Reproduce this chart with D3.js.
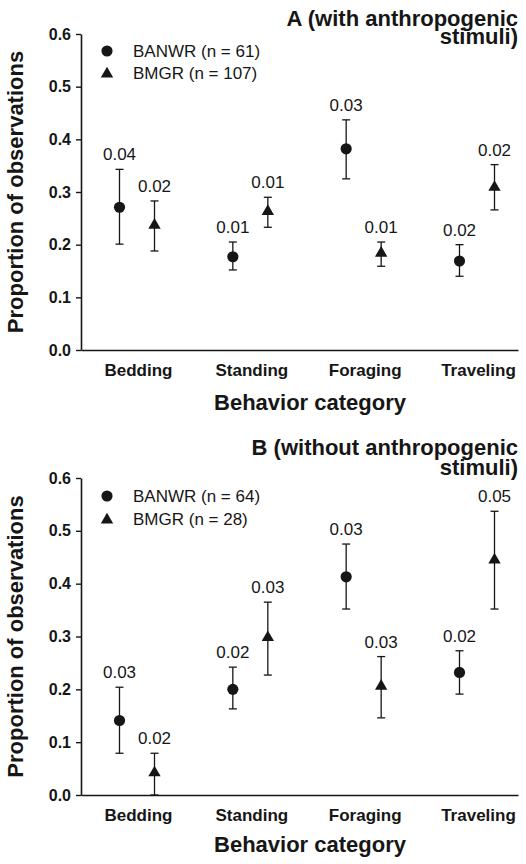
<!DOCTYPE html>
<html>
<head>
<meta charset="utf-8">
<script src="https://cdn.jsdelivr.net/npm/d3@7/dist/d3.min.js"></script>
<style>
  html, body { margin: 0; padding: 0; background: #fff; }
  svg { display: block; font-family: "Liberation Sans", Arial, Helvetica, sans-serif; }
</style>
</head>
<body>
<svg id="chart" width="526" height="864"></svg>
<script>
// ---------- data ----------
const categories = ["Bedding", "Standing", "Foraging", "Traveling"];
const yTicks = [0, 0.1, 0.2, 0.3, 0.4, 0.5, 0.6];

// Panel A (with anthropogenic stimuli)
const A_banwrMean  = [0.271, 0.177, 0.382, 0.169];
const A_banwrLow   = [0.201, 0.152, 0.325, 0.140];
const A_banwrHigh  = [0.343, 0.205, 0.437, 0.200];
const A_banwrLabel = ["0.04", "0.01", "0.03", "0.02"];
const A_bmgrMean   = [0.237, 0.263, 0.184, 0.309];
const A_bmgrLow    = [0.188, 0.233, 0.159, 0.266];
const A_bmgrHigh   = [0.283, 0.290, 0.205, 0.352];
const A_bmgrLabel  = ["0.02", "0.01", "0.01", "0.02"];
const A_legend     = ["BANWR (n = 61)", "BMGR (n = 107)"];
const A_title      = ["A (with anthropogenic", "stimuli)"];

// Panel B (without anthropogenic stimuli)
const B_banwrMean  = [0.141, 0.200, 0.413, 0.232];
const B_banwrLow   = [0.079, 0.163, 0.352, 0.191];
const B_banwrHigh  = [0.204, 0.242, 0.475, 0.273];
const B_banwrLabel = ["0.03", "0.02", "0.03", "0.02"];
const B_bmgrMean   = [0.042, 0.298, 0.206, 0.445];
const B_bmgrLow    = [0.000, 0.227, 0.146, 0.352];
const B_bmgrHigh   = [0.079, 0.365, 0.262, 0.537];
const B_bmgrLabel  = ["0.02", "0.03", "0.03", "0.05"];
const B_legend     = ["BANWR (n = 64)", "BMGR (n = 28)"];
const B_title      = ["B (without anthropogenic", "stimuli)"];

const yLabel = "Proportion of observations";
const xLabel = "Behavior category";

// ---------- drawing ----------
const ink = "#161616";
const svg = d3.select("#chart");

function series(mean, low, high, label) {
  return categories.map((c, i) => ({ cat: c, mean: mean[i], low: low[i], high: high[i], label: label[i] }));
}

const panels = [
  { top: 34, bottom: 350, titleY: [26, 44], legendY: [57, 79], xLabelDy: 60,
    title: A_title, legend: A_legend,
    s1: series(A_banwrMean, A_banwrLow, A_banwrHigh, A_banwrLabel),
    s2: series(A_bmgrMean, A_bmgrLow, A_bmgrHigh, A_bmgrLabel) },
  { top: 478, bottom: 795, titleY: [455, 475], legendY: [502, 525], xLabelDy: 57,
    title: B_title, legend: B_legend,
    s1: series(B_banwrMean, B_banwrLow, B_banwrHigh, B_banwrLabel),
    s2: series(B_bmgrMean, B_bmgrLow, B_bmgrHigh, B_bmgrLabel) }
];

const axisLeftX = 81, axisRightX = 518;
const x = d3.scalePoint().domain(categories).range([137, 477]);
const offset = 17.5;
const circleSym = d3.symbol().type(d3.symbolCircle).size(98);
const triSym = d3.symbol().type(d3.symbolTriangle).size(66);

panels.forEach(p => {
  const g = svg.append("g");
  const y = d3.scaleLinear().domain([0, 0.6]).range([p.bottom, p.top]);

  // y axis
  const yAxis = g.append("g")
    .attr("transform", `translate(${axisLeftX},0)`)
    .call(d3.axisLeft(y).tickValues(yTicks).tickFormat(d3.format(".1f"))
      .tickSize(5).tickSizeOuter(0).tickPadding(5));
  yAxis.select(".domain").attr("stroke", ink).attr("stroke-width", 1.6);
  yAxis.selectAll(".tick line").attr("stroke", ink).attr("stroke-width", 1.4);
  yAxis.selectAll(".tick text").attr("fill", ink).attr("font-size", 16)
    .attr("font-weight", "bold").attr("font-family", "Liberation Sans, Arial, sans-serif");

  // x axis line (no ticks)
  const xLine = d3.scaleLinear().domain([0, 1]).range([axisLeftX, axisRightX]);
  const xAxis = g.append("g")
    .attr("transform", `translate(0,${p.bottom})`)
    .call(d3.axisBottom(xLine).tickValues([]).tickSizeOuter(0));
  xAxis.select(".domain").attr("stroke", ink).attr("stroke-width", 1.6);

  // category labels
  g.selectAll(".cat").data(categories).join("text")
    .attr("x", d => x(d) + 1.5)
    .attr("y", p.bottom + 26)
    .attr("text-anchor", "middle")
    .attr("font-size", 17).attr("font-weight", "bold").attr("fill", ink)
    .text(d => d);

  // x label
  g.append("text")
    .attr("x", 310).attr("y", p.bottom + p.xLabelDy)
    .attr("text-anchor", "middle")
    .attr("font-size", 22).attr("font-weight", "bold").attr("fill", ink)
    .text(xLabel);

  // y label
  g.append("text")
    .attr("transform", `translate(23,${(p.top + p.bottom) / 2}) rotate(-90)`)
    .attr("text-anchor", "middle")
    .attr("font-size", 22).attr("font-weight", "bold").attr("fill", ink)
    .text(yLabel);

  // title
  g.selectAll(".title").data(p.title).join("text")
    .attr("x", axisRightX).attr("y", (d, i) => p.titleY[i])
    .attr("text-anchor", "end")
    .attr("font-size", 22).attr("font-weight", "bold").attr("fill", ink)
    .text(d => d);

  // legend
  const lg = g.append("g");
  lg.append("path").attr("d", circleSym())
    .attr("transform", `translate(107,${p.legendY[0] - 6})`).attr("fill", ink);
  lg.append("path").attr("d", triSym())
    .attr("transform", `translate(107,${p.legendY[1] - 5})`).attr("fill", ink);
  lg.selectAll("text").data(p.legend).join("text")
    .attr("x", 133).attr("y", (d, i) => p.legendY[i])
    .attr("font-size", 17).attr("fill", ink)
    .text(d => d);

  // series
  [[p.s1, -offset, circleSym], [p.s2, offset, triSym]].forEach(([data, dx, sym]) => {
    const sg = g.append("g");
    const cx = d => x(d.cat) + dx;
    // error bars
    sg.selectAll(".eb").data(data).join("line")
      .attr("x1", cx).attr("x2", cx)
      .attr("y1", d => y(d.low)).attr("y2", d => y(d.high))
      .attr("stroke", ink).attr("stroke-width", 1.3);
    sg.selectAll(".capT").data(data).join("line")
      .attr("x1", d => cx(d) - 4).attr("x2", d => cx(d) + 4)
      .attr("y1", d => y(d.high)).attr("y2", d => y(d.high))
      .attr("stroke", ink).attr("stroke-width", 1.3);
    sg.selectAll(".capB").data(data).join("line")
      .attr("x1", d => cx(d) - 4).attr("x2", d => cx(d) + 4)
      .attr("y1", d => y(d.low)).attr("y2", d => y(d.low))
      .attr("stroke", ink).attr("stroke-width", 1.3);
    // markers
    sg.selectAll(".mk").data(data).join("path")
      .attr("d", sym())
      .attr("transform", d => `translate(${cx(d)},${y(d.mean)})`)
      .attr("fill", ink);
    // value labels
    sg.selectAll(".vl").data(data).join("text")
      .attr("x", cx)
      .attr("y", d => y(d.high) - 9)
      .attr("text-anchor", "middle")
      .attr("font-size", 17).attr("fill", ink)
      .text(d => d.label);
  });
});
</script>
</body>
</html>
